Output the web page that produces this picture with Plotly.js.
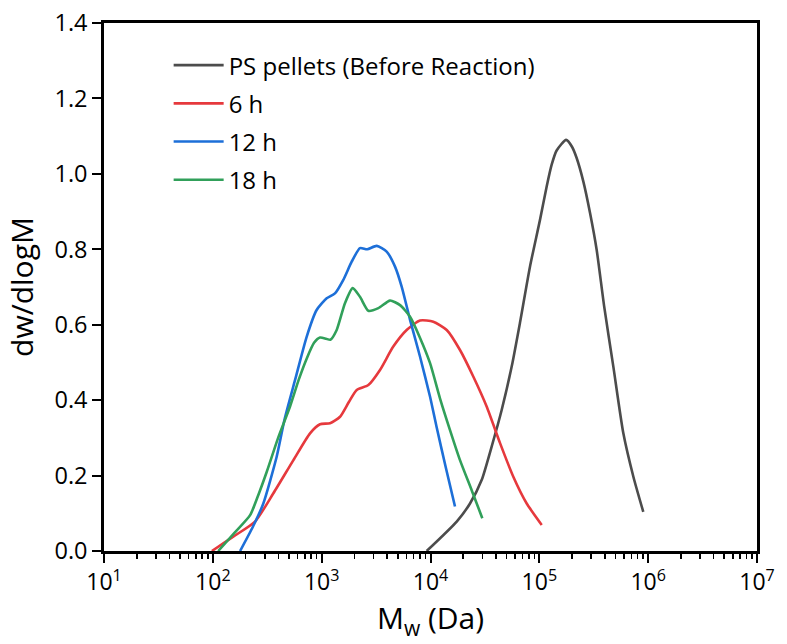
<!DOCTYPE html>
<html>
<head>
<meta charset="utf-8">
<script src="https://cdn.plot.ly/plotly-3.0.1.min.js"></script>
<style>html,body{margin:0;padding:0;background:#fff;}#chart{width:787px;height:644px;}</style>
</head>
<body>
<div id="chart"></div>
<script>
// PS pellets (Before Reaction)
const psM = [9226, 17418, 23067, 29512, 36475, 45082, 55719, 66374, 82035, 101391, 116681, 130017, 144212, 176198, 199526, 220293, 253513, 292415, 336512, 393550, 478630, 591562, 731139, 901571];
const psY = [0, 0.078, 0.126, 0.188, 0.277, 0.374, 0.489, 0.605, 0.754, 0.878, 0.966, 1.025, 1.062, 1.090, 1.072, 1.042, 0.980, 0.896, 0.798, 0.650, 0.489, 0.312, 0.197, 0.104];
// 6 h
const h6M = [98, 154, 244, 360, 550, 782, 966, 1194, 1476, 1778, 2099, 2685, 3436, 4550, 6039, 8017, 10617, 14093, 18664, 24774, 32810, 43551, 57677, 76560, 105196];
const h6Y = [0, 0.038, 0.078, 0.153, 0.241, 0.312, 0.336, 0.339, 0.356, 0.395, 0.427, 0.440, 0.480, 0.542, 0.586, 0.611, 0.608, 0.586, 0.533, 0.462, 0.383, 0.286, 0.197, 0.126, 0.069];
// 12 h
const h12M = [178, 234, 291, 386, 457, 569, 728, 899, 1112, 1324, 1581, 1888, 2249, 2624, 3206, 3954, 4721, 5433, 6486, 8017, 9908, 11350, 13804, 16788];
const h12Y = [0, 0.065, 0.126, 0.250, 0.350, 0.453, 0.568, 0.639, 0.670, 0.683, 0.719, 0.767, 0.803, 0.800, 0.809, 0.794, 0.754, 0.701, 0.613, 0.515, 0.409, 0.330, 0.222, 0.118];
// 18 h
const h18M = [112, 158, 220, 263, 313, 398, 512, 617, 728, 851, 966, 1096, 1202, 1374, 1637, 1928, 2249, 2685, 3319, 4246, 5248, 6486, 8017, 9908, 12218, 15136, 18664, 23988, 29923];
const h18Y = [0, 0.048, 0.095, 0.150, 0.210, 0.300, 0.383, 0.455, 0.510, 0.552, 0.566, 0.563, 0.560, 0.586, 0.657, 0.697, 0.674, 0.637, 0.644, 0.664, 0.652, 0.621, 0.565, 0.498, 0.405, 0.320, 0.241, 0.160, 0.087];

const seriesNames = ["PS pellets (Before Reaction)", "6 h", "12 h", "18 h"];
const seriesColors = ["#4c4c4c", "#e6393d", "#1d6fd8", "#31a05a"];
const xTickVals = [10, 100, 1000, 10000, 100000, 1000000, 10000000];
const xTickText = ["10<sup>1</sup>", "10<sup>2</sup>", "10<sup>3</sup>", "10<sup>4</sup>", "10<sup>5</sup>", "10<sup>6</sup>", "10<sup>7</sup>"];

const xs = [psM, h6M, h12M, h18M];
const ys = [psY, h6Y, h12Y, h18Y];
const traces = xs.map((x, i) => ({
  x: x, y: ys[i], type: "scatter", mode: "lines", name: seriesNames[i],
  legendgroup: "g" + i,
  line: {color: seriesColors[i], width: 2.6, shape: "spline", smoothing: 0.6}
}));

const font = "Open Sans, Noto Sans, sans-serif";
const layout = {
  width: 787, height: 644,
  margin: {l: 104, r: 30, t: 23, b: 93},
  paper_bgcolor: "#fff", plot_bgcolor: "#fff",
  font: {family: font, color: "#000", size: 24},
  showlegend: true,
  legend: {x: 0.099, y: 0.962, xanchor: "left", yanchor: "top", bgcolor: "rgba(0,0,0,0)",
           font: {family: font, size: 24, color: "#000"}, itemwidth: 50, tracegroupgap: 4},
  xaxis: {
    type: "log", range: [1, 7], tickvals: xTickVals, ticktext: xTickText,
    ticks: "outside", ticklen: 9, tickwidth: 2, tickcolor: "#000",
    showline: true, linewidth: 2.8, linecolor: "#000", mirror: true,
    showgrid: false, zeroline: false,
    tickfont: {family: font, size: 23, color: "#000"},
    minor: {ticks: "outside", ticklen: 5, tickwidth: 1.6, tickcolor: "#000", dtick: "D1", showgrid: false},
    title: {text: "M<sub>w</sub> (Da)", font: {family: font, size: 30, color: "#000"}, standoff: 5}
  },
  yaxis: {
    range: [0, 1.4], dtick: 0.2, tickformat: ".1f",
    ticks: "outside", ticklen: 9, tickwidth: 2, tickcolor: "#000",
    showline: true, linewidth: 2.8, linecolor: "#000", mirror: true,
    showgrid: false, zeroline: false,
    tickfont: {family: font, size: 23.5, color: "#000"},
    title: {text: "dw/dlogM", font: {family: font, size: 30, color: "#000"}, standoff: 12}
  }
};
Plotly.newPlot("chart", traces, layout, {staticPlot: true, displayModeBar: false});
</script>
</body>
</html>
